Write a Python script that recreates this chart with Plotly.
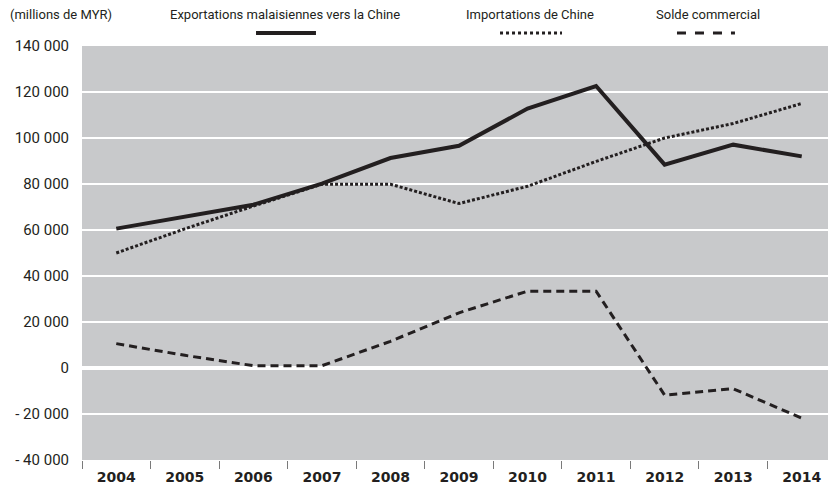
import plotly.graph_objects as go

years = ["2004", "2005", "2006", "2007", "2008", "2009", "2010", "2011", "2012", "2013", "2014"]
exports_to_china = [60600, 66000, 71000, 80200, 91300, 96600, 112800, 122600, 88400, 97100, 92000]
imports_from_china = [50000, 60500, 70400, 79900, 79900, 71500, 79000, 89800, 100000, 106300, 115000]
trade_balance = [10600, 5500, 1000, 1000, 11600, 24000, 33400, 33400, -11800, -9000, -21800]

y_tick_values = [-40000, -20000, 0, 20000, 40000, 60000, 80000, 100000, 120000, 140000]
y_tick_labels = ["- 40 000", "- 20 000", "0", "20 000", "40 000", "60 000", "80 000",
                 "100 000", "120 000", "140 000"]

series_names = ["Exportations malaisiennes vers la Chine", "Importations de Chine", "Solde commercial"]
unit_label = "(millions de MYR)"

INK = "#231f20"
BG = "#c8c9cb"
LABEL_FONT = "Roboto"

fig = go.Figure()
fig.add_trace(go.Scatter(x=years, y=exports_to_china, mode="lines", name=series_names[0],
                         line=dict(color=INK, width=4)))
fig.add_trace(go.Scatter(x=years, y=imports_from_china, mode="lines", name=series_names[1],
                         line=dict(color=INK, width=3, dash="3px,2px")))
fig.add_trace(go.Scatter(x=years, y=trade_balance, mode="lines", name=series_names[2],
                         line=dict(color=INK, width=3, dash="8px,5px")))

# custom legend: text above a sample line
legend_specs = [
    (series_names[0], 0.2692, (0.2308, 0.3103), dict(width=4)),
    (series_names[1], 0.5942, (0.5544, 0.6366), dict(width=3, dash="dot")),
    (series_names[2], 0.8302, (0.7891, 0.8660), dict(width=3, dash="dash")),
]
annotations = [dict(text=unit_label, x=-0.0978, y=1.0749, xref="paper", yref="paper",
                    xanchor="left", yanchor="middle", showarrow=False,
                    font=dict(family=LABEL_FONT, size=13, color=INK))]
shapes = []
for name, cx, (x0, x1), lstyle in legend_specs:
    annotations.append(dict(text=name, x=cx, y=1.0749, xref="paper", yref="paper",
                            xanchor="center", yanchor="middle", showarrow=False,
                            font=dict(family=LABEL_FONT, size=13, color=INK)))
    shapes.append(dict(type="line", xref="paper", yref="paper", x0=x0, x1=x1,
                       y0=1.0314, y1=1.0314, line=dict(color=INK, **lstyle)))

# the page body adds an 8px offset; margins compensate so the plot lands where the reference has it
fig.update_layout(
    width=836, height=487,
    margin=dict(l=74, r=8, t=38, b=35, autoexpand=False),
    paper_bgcolor="white",
    plot_bgcolor=BG,
    showlegend=False,
    annotations=annotations,
    shapes=shapes,
    xaxis=dict(
        type="category", range=[-0.5, 10.5], showgrid=False, zeroline=False,
        tickson="boundaries", ticks="outside", ticklen=8, tickwidth=1.2, tickcolor="#7a7a7a",
        ticklabelstandoff=7,
        tickfont=dict(family="DejaVu Sans", size=14, color=INK, weight="bold"),
        showline=False, fixedrange=True,
    ),
    yaxis=dict(
        range=[-40000, 140000], tickvals=y_tick_values, ticktext=y_tick_labels,
        showgrid=True, gridcolor="white", gridwidth=1.5,
        zeroline=True, zerolinecolor="white", zerolinewidth=4,
        ticks="", ticklabelstandoff=12,
        tickfont=dict(family=LABEL_FONT, size=15, color=INK),
        fixedrange=True,
    ),
)

fig.write_html("out.html")
